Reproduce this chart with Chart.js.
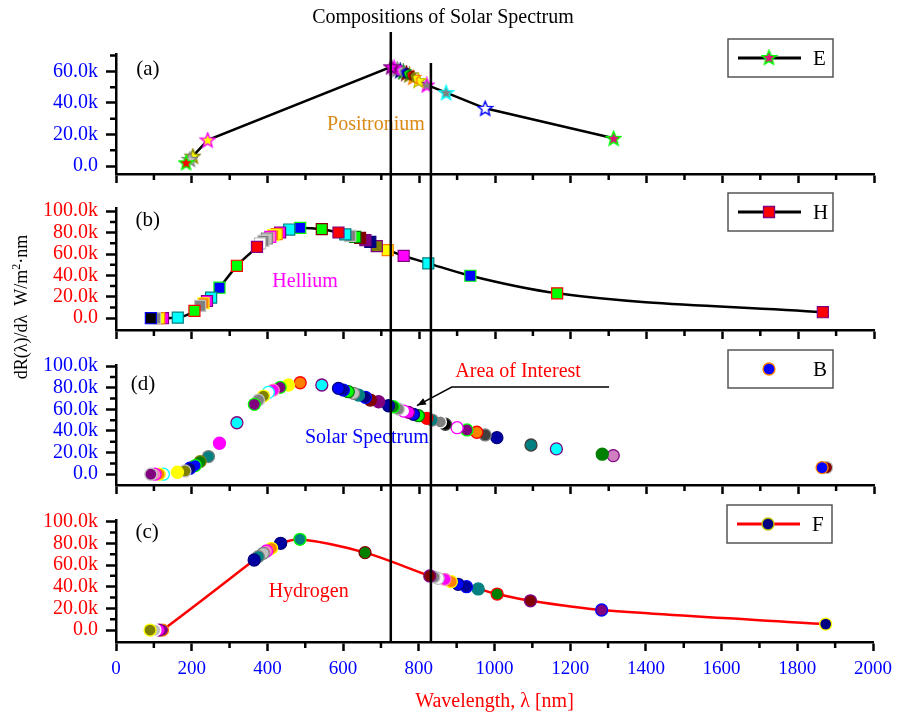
<!DOCTYPE html>
<html>
<head>
<meta charset="utf-8">
<title>Compositions of Solar Spectrum</title>
<script src="https://cdn.jsdelivr.net/npm/chart.js@4.4.1/dist/chart.umd.min.js"></script>
<style>
  body { margin: 0; background: #fff; }
  #page { position: relative; width: 899px; height: 714px; overflow: hidden; font-family: "Liberation Serif", "Times New Roman", serif; }
  #page canvas { position: absolute; left: 0; top: 0; }
  #title { position: absolute; left: 0; top: 5px; width: 886px; text-align: center; font-size: 20px; }
  #ytitle { position: absolute; left: -129px; top: 296px; width: 300px; height: 22px; line-height: 22px; text-align: center; font-size: 18px; transform: rotate(-90deg); white-space: nowrap; }
  #ytitle sup { font-size: 12px; line-height: 0; }
</style>
</head>
<body>
<div id="page">
  <canvas id="cE" width="899" height="714"></canvas>
  <canvas id="cH" width="899" height="714"></canvas>
  <canvas id="cB" width="899" height="714"></canvas>
  <canvas id="cF" width="899" height="714"></canvas>
  <div id="title">Compositions of Solar Spectrum</div>
  <div id="ytitle">dR(λ)/dλ&nbsp;&nbsp;W/m<sup>2</sup>·nm</div>
</div>
<script>
const SERIF = '"Liberation Serif", "Times New Roman", serif';

// wavelength (nm) and dR/dλ (W/m²·nm), one pair per layer
const waveE = [185, 195, 203, 242, 726, 734, 742, 750, 758, 766, 774, 784, 798, 820, 871, 974, 1313];
const fluxE = [2100, 4300, 6300, 16500, 62900, 62200, 61400, 60500, 59700, 58900, 57800, 56200, 54200, 51400, 46500, 36600, 17600];

const waveH = [92, 103, 114, 124, 163, 207, 222, 231, 240, 251, 273, 319, 372, 380, 389, 398, 407, 415, 424, 433,
  457, 486, 543, 587, 605, 618, 631, 644, 658, 671, 688, 717, 759, 824, 935, 1164, 1865];
const fluxH = [0, 0, 0, 0, 600, 6800, 11500, 14000, 16100, 19200, 28500, 49000, 66700, 69900, 72300, 74500, 76000, 77600, 78600, 80100,
  82900, 84400, 83200, 80100, 78300, 77000, 76000, 75100, 73000, 71400, 67400, 63700, 58300, 51300, 39700, 23300, 5600];

const waveB = [92, 103, 114, 125, 162, 182, 195, 209, 222, 244, 273, 319, 365, 376, 389, 402, 415, 433, 455, 486, 543,
  587, 600, 613, 627, 640, 658, 671, 693, 719, 732, 745, 759, 772, 785, 798, 820, 834, 856, 869,
  900, 926, 952, 974, 1005, 1095, 1162, 1283, 1312, 1863, 1875];
const fluxB = [0, 0, 0, 0, 1800, 3000, 5500, 8000, 11600, 16300, 28600, 47600, 64600, 68600, 72300, 75700, 77800, 80300, 82500, 84600, 82500,
  79400, 77800, 76300, 74800, 73200, 71100, 68600, 67000, 63300, 62400, 60300, 58400, 57200, 55400, 54100, 51700, 50100, 48300, 46200,
  43000, 40900, 38800, 36300, 33800, 27000, 23400, 18500, 17200, 6100, 6100];

const waveF = [90, 103, 114, 123, 365, 376, 389, 398, 411, 435, 486, 658, 829, 840, 851, 869, 886, 904, 926, 957, 1007, 1095, 1283, 1875];
const fluxF = [0, 0, 0, 0, 64600, 67700, 70800, 72900, 75400, 80000, 83700, 71400, 49900, 49000, 47700, 46800, 44600, 42200, 40000, 37900, 33200, 27000, 18500, 5500];

const xTicks = [0, 200, 400, 600, 800, 1000, 1200, 1400, 1600, 1800, 2000];
const yTicksE = [0, 20000, 40000, 60000];
const yTicksFull = [0, 20000, 40000, 60000, 80000, 100000];
const markLines = [726, 832];

// Origin-style increment colours
const K = '#000000', R = '#ff0000', G = '#00ff00', Bl = '#0000ff', Cy = '#00ffff', Mg = '#ff00ff', Ye = '#ffff00',
  Ol = '#808000', Nv = '#000080', Pu = '#800080', Wi = '#800000', Tl = '#008080', Ro = '#0000a0', Or = '#ff8000',
  Pk = '#ff80c0', Wh = '#ffffff', Lg = '#c0c0c0', Gy = '#808080', Dg = '#404040', Dk = '#008000', Mp = '#d080c0';

const fillE = [R, Lg, Ye, Ye, Mg, Pu, Lg, Bl, G, R, Ol, Ye, Ye, Gy, Gy, Wh, '#e0107a'];
const edgeE = [G, Gy, Ol, Mg, Pu, Mg, Gy, Nv, Dk, Wi, Ol, Or, '#c0c000', Mg, Cy, Bl, G];

const fillH = [K, Gy, Ye, Mg, Cy, G, Gy, Or, Mg, Cy, Bl, G, R, Wh, Gy, Lg, Pk, Or, Ye, Mg,
  Cy, Bl, G, R, Cy, Gy, G, Wi, Pu, Nv, Ol, Ye, Mg, Cy, Bl, G, R];
const edgeH = [Bl, Lg, Or, Pu, Tl, R, Lg, Ye, Pu, Tl, G, R, Pu, Lg, Lg, Gy, Mg, Ye, Or, Pu,
  Tl, G, Wi, Pu, Tl, Lg, Dk, Wi, Pu, Nv, Pu, Or, Pu, Tl, G, R, Pu];

const fillB = [Pu, Pk, Or, Wh, Ye, Ol, Nv, Bl, Dk, Tl, Mg, Cy, Pu, Gy, Ol, Wh, Mg, Pu, Ye, Or, Cy,
  Bl, Ro, G, Lg, Tl, Nv, Wi, Pu, Ro, Dk, Gy, Wh, Mg, Bl, G, R, Tl, Gy, K,
  Wh, Pu, Or, Dg, Ro, Tl, Cy, Dk, Mp, Bl, Wi];
const edgeB = [Lg, Mg, Ye, Cy, Ye, Lg, Bl, G, Ol, Gy, Mg, Pu, G, Lg, Ye, Cy, Pk, G, Ye, R, Pu,
  Nv, Bl, Dk, Gy, Tl, Bl, Wi, Pu, Nv, G, Lg, Mg, Pu, Nv, Dk, R, Gy, Wh, Dg,
  Mg, G, R, Gy, Nv, Dg, Pu, Dk, Pu, Or, Lg];

const fillF = [Ol, Lg, Mg, Pu, Ro, Tl, Lg, Pk, Or, Ro, Tl, Dk, Wi, Gy, Wh, Mg, Or, Bl, Ro, Tl, Dk, Wi, Pu, Nv];
const edgeF = [Ye, Wh, Pu, Or, Nv, Gy, Gy, Mg, Ye, Nv, G, Wi, Pu, Lg, Lg, Pk, Ye, Nv, Bl, Tl, R, Pu, Bl, Ye];

Chart.defaults.font.family = SERIF;
Chart.defaults.color = '#000';

const starCache = {};
function starImage(fill, edge) {
  const key = fill + edge;
  if (starCache[key]) return starCache[key];
  const c = document.createElement('canvas');
  c.width = 17; c.height = 17;
  const g = c.getContext('2d');
  g.beginPath();
  for (let i = 0; i < 10; i++) {
    const r = i % 2 ? 3.3 : 7.6;
    const ang = -Math.PI / 2 + i * Math.PI / 5;
    g.lineTo(8.5 + r * Math.cos(ang), 9 + r * Math.sin(ang));
  }
  g.closePath();
  g.fillStyle = fill;
  g.fill();
  g.lineWidth = 1.4;
  g.strokeStyle = edge;
  g.stroke();
  starCache[key] = c;
  return c;
}

// short wavelengths end up drawn last (on top), as in the original
const pts = (xs, ys) => xs.map((x, i) => ({ x: x, y: ys[i] })).reverse();
const back = a => a.slice().reverse();
const fmtK = v => v === 0 ? '0.0' : (v / 1000).toFixed(1) + 'k';

function dot(fill, edge, square) {
  return (ctx, x, y) => {
    ctx.fillStyle = fill;
    ctx.strokeStyle = edge;
    ctx.lineWidth = 1.3;
    ctx.beginPath();
    if (square) ctx.rect(x - 5.5, y - 5.5, 11, 11);
    else ctx.arc(x, y, 6, 0, Math.PI * 2);
    ctx.fill();
    ctx.stroke();
  };
}

const panelPlugin = {
  id: 'panel',
  afterDraw(chart, args, o) {
    const { ctx, chartArea: a } = chart;
    const x = chart.scales.x, y = chart.scales.y;
    ctx.save();

    // minor ticks halfway between the majors
    ctx.strokeStyle = '#000';
    ctx.lineWidth = 2.5;
    ctx.beginPath();
    for (let i = 1; i < xTicks.length; i++) {
      const px = x.getPixelForValue((xTicks[i - 1] + xTicks[i]) / 2);
      ctx.moveTo(px, a.bottom);
      ctx.lineTo(px, a.bottom + 6);
    }
    const yt = o.yTicks;
    const step = yt[1] - yt[0];
    for (let v = yt[0] + step / 2; v <= y.max; v += step) {
      const py = y.getPixelForValue(v);
      ctx.moveTo(a.left, py);
      ctx.lineTo(a.left - 6, py);
    }
    ctx.stroke();

    // labels inside the layer
    ctx.textAlign = 'center';
    ctx.textBaseline = 'middle';
    for (const n of o.notes) {
      ctx.font = (n.size || 20) + 'px ' + SERIF;
      ctx.fillStyle = n.color;
      ctx.fillText(n.text, x.getPixelForValue(n.at[0]), y.getPixelForValue(n.at[1]));
    }

    // pointer for "Area of Interest"
    if (o.pointer) {
      const p = o.pointer.map(q => [x.getPixelForValue(q[0]), y.getPixelForValue(q[1])]);
      ctx.strokeStyle = '#000';
      ctx.lineWidth = 1.5;
      ctx.beginPath();
      ctx.moveTo(p[0][0], p[0][1]);
      ctx.lineTo(p[1][0], p[1][1]);
      ctx.lineTo(p[2][0], p[2][1]);
      ctx.stroke();
      const ang = Math.atan2(p[2][1] - p[1][1], p[2][0] - p[1][0]);
      ctx.fillStyle = '#000';
      ctx.beginPath();
      ctx.moveTo(p[2][0], p[2][1]);
      ctx.lineTo(p[2][0] - 9 * Math.cos(ang) + 3.5 * Math.sin(ang), p[2][1] - 9 * Math.sin(ang) - 3.5 * Math.cos(ang));
      ctx.lineTo(p[2][0] - 9 * Math.cos(ang) - 3.5 * Math.sin(ang), p[2][1] - 9 * Math.sin(ang) + 3.5 * Math.cos(ang));
      ctx.closePath();
      ctx.fill();
    }

    // legend box
    const L = o.legend;
    const bx = a.right - 146, by = a.top - 15, bw = 105, bh = 38, my = by + bh / 2;
    ctx.fillStyle = '#fff';
    ctx.fillRect(bx, by, bw, bh);
    ctx.strokeStyle = '#555';
    ctx.lineWidth = 1.5;
    ctx.strokeRect(bx, by, bw, bh);
    if (L.line) {
      ctx.strokeStyle = L.line;
      ctx.lineWidth = 3;
      ctx.beginPath();
      ctx.moveTo(bx + 10, my);
      ctx.lineTo(bx + 73, my);
      ctx.stroke();
    }
    L.marker(ctx, bx + 41, my);
    ctx.fillStyle = '#000';
    ctx.font = '21px ' + SERIF;
    ctx.textAlign = 'left';
    ctx.fillText(L.label, bx + 85, my + 1);

    // vertical guide lines through all layers
    if (o.vlines) {
      ctx.strokeStyle = '#000';
      ctx.lineWidth = 2.5;
      ctx.beginPath();
      o.vlines.forEach(l => {
        const px = x.getPixelForValue(l.value);
        ctx.moveTo(px, l.top);
        ctx.lineTo(px, a.bottom + 1);
      });
      ctx.stroke();
    }
    ctx.restore();
  }
};

const axisBorder = { display: true, color: '#000', width: 2.5 };
const tickGrid = len => ({ display: true, drawOnChartArea: false, drawTicks: true, tickLength: len, tickWidth: 2.5, tickColor: '#000' });

function makePanel(p) {
  return new Chart(document.getElementById(p.id), {
    type: 'scatter',
    data: { datasets: [p.dataset] },
    options: {
      responsive: false,
      animation: false,
      events: [],
      layout: { padding: { left: 0, right: 25, top: p.top, bottom: 714 - p.axisY - p.xh } },
      plugins: { legend: { display: false }, tooltip: { enabled: false }, panel: p.extras },
      scales: {
        x: {
          type: 'linear', min: 0, max: 2000,
          afterBuildTicks: s => { s.ticks = xTicks.map(v => ({ value: v })); },
          afterFit: s => { s.height = p.xh; },
          border: axisBorder,
          grid: tickGrid(9),
          ticks: { display: !!p.xLabels, color: '#0000ff', font: { size: 19 }, padding: 7, maxRotation: 0, autoSkip: false, callback: v => String(v) },
          title: { display: !!p.xLabels, text: 'Wavelength, λ [nm]', color: '#ff0000', font: { size: 20 }, padding: { top: 0, bottom: 0 } }
        },
        y: {
          min: p.min, max: p.max,
          afterBuildTicks: s => { s.ticks = p.extras.yTicks.map(v => ({ value: v })); },
          afterFit: s => { s.width = 116; },
          border: axisBorder,
          grid: tickGrid(10),
          ticks: { color: p.tickColor, font: { size: 20 }, padding: 8, autoSkip: false, callback: fmtK }
        }
      }
    },
    plugins: [panelPlugin]
  });
}

makePanel({
  id: 'cE', top: 54, axisY: 174, xh: 20, min: -5000, max: 71000, tickColor: '#0000ff',
  dataset: {
    data: pts(waveE, fluxE),
    showLine: true, borderColor: '#000', borderWidth: 2.5, tension: 0,
    pointStyle: back(fillE).map((f, i) => starImage(f, back(edgeE)[i])), pointRadius: 7
  },
  extras: {
    yTicks: yTicksE,
    notes: [
      { text: '(a)', at: [84, 61500], color: '#000', size: 21 },
      { text: 'Positronium', at: [686, 26000], color: '#dc8a16' }
    ],
    legend: { label: 'E', line: '#000', marker: (ctx, x, y) => ctx.drawImage(starImage('#e0107a', G), x - 8.5, y - 9) }
  }
});

makePanel({
  id: 'cH', top: 208, axisY: 330, xh: 20, min: -11000, max: 103000, tickColor: '#ff0000',
  dataset: {
    data: pts(waveH, fluxH),
    showLine: true, borderColor: '#000', borderWidth: 2.5, cubicInterpolationMode: 'monotone',
    pointStyle: 'rect', pointRadius: 7.8, pointBorderWidth: 1.2,
    pointBackgroundColor: back(fillH), pointBorderColor: back(edgeH)
  },
  extras: {
    yTicks: yTicksFull,
    notes: [
      { text: '(b)', at: [84, 90900], color: '#000', size: 21 },
      { text: 'Hellium', at: [499, 33900], color: '#ff00ff' }
    ],
    legend: { label: 'H', line: '#000', marker: dot(R, Pu, true) }
  }
});

makePanel({
  id: 'cB', top: 365, axisY: 485, xh: 20, min: -10000, max: 101000, tickColor: '#0000ff',
  dataset: {
    data: pts(waveB, fluxB),
    showLine: false,
    pointStyle: 'circle', pointRadius: 6, pointBorderWidth: 1.3,
    pointBackgroundColor: back(fillB), pointBorderColor: back(edgeB)
  },
  extras: {
    yTicks: yTicksFull,
    notes: [
      { text: '(d)', at: [71, 83400], color: '#000', size: 21 },
      { text: 'Solar Spectrum', at: [662, 33500], color: '#0000ff' },
      { text: 'Area of Interest', at: [1061, 94500], color: '#ff0000' }
    ],
    pointer: [[1301, 80600], [886, 80600], [794, 63500]],
    legend: { label: 'B', line: null, marker: dot(Bl, Or) }
  }
});

makePanel({
  id: 'cF', top: 520, axisY: 642, xh: 72, min: -11000, max: 101500, tickColor: '#ff0000', xLabels: true,
  dataset: {
    data: pts(waveF, fluxF),
    showLine: true, borderColor: '#ff0000', borderWidth: 2.5, tension: 0.3,
    pointStyle: 'circle', pointRadius: 6, pointBorderWidth: 1.3,
    pointBackgroundColor: back(fillF), pointBorderColor: back(edgeF)
  },
  extras: {
    yTicks: yTicksFull,
    notes: [
      { text: '(c)', at: [82, 90400], color: '#000', size: 21 },
      { text: 'Hydrogen', at: [509, 35100], color: '#ff0000' }
    ],
    legend: { label: 'F', line: '#ff0000', marker: dot(Nv, '#c0c000') },
    vlines: [{ value: markLines[0], top: 32 }, { value: markLines[1], top: 63 }]
  }
});
</script>
</body>
</html>
